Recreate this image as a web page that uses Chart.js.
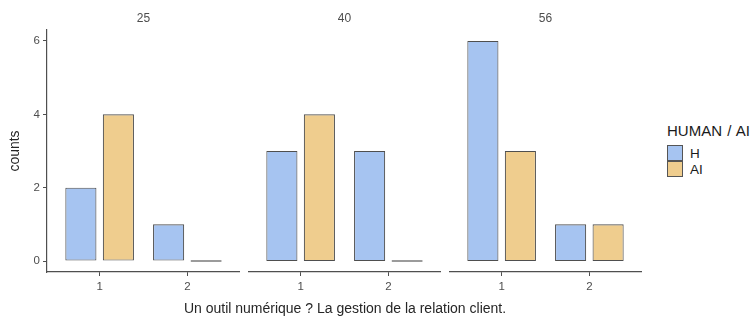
<!DOCTYPE html>
<html>
<head>
<meta charset="utf-8">
<script src="https://cdn.jsdelivr.net/npm/chart.js@4/dist/chart.umd.min.js"></script>
<style>
  html, body { margin: 0; padding: 0; background: #fff; }
  #wrap { position: relative; width: 753px; height: 320px; overflow: hidden; font-family: "Liberation Sans", Arial, sans-serif; }
  .pc { position: absolute; top: 0; height: 320px; }
  #xtitle { position: absolute; left: 145px; width: 400px; top: 300px; text-align: center; font-size: 14px; color: #262626; white-space: nowrap; }
  #legend { position: absolute; left: 667px; top: 122px; color: #1a1a1a; }
  #legend .lt { font-size: 15px; margin-bottom: 6px; white-space: nowrap; word-spacing: 1px; }
  #legend .it { display: flex; align-items: center; height: 16px; font-size: 13.5px; }
  #legend .sw { width: 14px; height: 14px; border: 1px solid #555; margin-right: 7px; box-sizing: content-box; }
</style>
</head>
<body>
<div id="wrap">
  <div class="pc" style="left:0px;width:240px"><canvas id="c0"></canvas></div>
  <div class="pc" style="left:248px;width:193px"><canvas id="c1"></canvas></div>
  <div class="pc" style="left:449px;width:193px"><canvas id="c2"></canvas></div>
  <div id="xtitle"></div>
  <div id="legend"></div>
</div>
<script>
// ---- data ----
const facets = ["25", "40", "56"];
const categories = [1, 2];
const seriesNames = ["H", "AI"];
const valuesH = [[2, 1], [3, 3], [6, 1]];
const valuesAI = [[4, 0], [4, 0], [3, 1]];
const yTicks = [0, 2, 4, 6];
const xTicks = [1, 2];
const xTitle = "Un outil numérique ? La gestion de la relation client.";
const yTitle = "counts";
const legendTitle = "HUMAN / AI";

// ---- style ----
const colors = ["#a6c4f1", "#efcd8e"];
const edge = "#4f4f4f";
const FONT = "'Liberation Sans', Arial, sans-serif";
const tickColor = "#4d4d4d";

function makeChart(id, idx) {
  const first = idx === 0;
  const seriesVals = [valuesH[idx], valuesAI[idx]];
  const datasets = seriesNames.map((name, s) => ({
    label: name,
    data: categories.map((c, i) => ({ x: c, y: seriesVals[s][i] })),
    backgroundColor: colors[s],
    borderColor: edge,
    borderWidth: 1.1,
    borderSkipped: false,
    minBarLength: 1.6,
    categoryPercentage: 0.855,
    barPercentage: 0.83
  }));
  const yScale = {
    display: first,
    min: -0.3,
    max: 6.3,
    afterBuildTicks: (ax) => { ax.ticks = yTicks.map(v => ({ value: v })); },
    ticks: {
      color: tickColor,
      font: { family: FONT, size: 11.5 },
      padding: 3
    },
    grid: { display: true, drawOnChartArea: false, drawTicks: true, tickLength: 4, color: edge },
    border: { display: true, color: edge, width: 1.2 },
    title: {
      display: first,
      text: yTitle,
      color: "#262626",
      font: { family: FONT, size: 14 },
      padding: { top: 7, bottom: 0 }
    }
  };
  if (first) yScale.afterFit = (ax) => { ax.width = 47; };
  return new Chart(document.getElementById(id), {
    type: "bar",
    data: { datasets },
    options: {
      responsive: true,
      maintainAspectRatio: false,
      animation: false,
      events: [],
      layout: { padding: 0 },
      plugins: {
        legend: { display: false },
        tooltip: { enabled: false },
        title: {
          display: true,
          text: facets[idx],
          fullSize: false,
          color: tickColor,
          font: { family: FONT, size: 12, weight: "normal", lineHeight: 1.2 },
          padding: { top: 11, bottom: 4.6 }
        }
      },
      scales: {
        x: {
          type: "linear",
          min: 0.4,
          max: 2.6,
          offset: false,
          afterBuildTicks: (ax) => { ax.ticks = xTicks.map(v => ({ value: v })); },
          afterFit: (ax) => { ax.height = 48; },
          ticks: {
            color: tickColor,
            font: { family: FONT, size: 11.5 },
            padding: 4,
            maxRotation: 0,
            autoSkip: false,
            callback: (v) => String(v)
          },
          grid: { display: true, drawOnChartArea: false, drawTicks: true, tickLength: 4, color: edge, offset: false },
          border: { display: true, color: edge, width: 1.2 }
        },
        y: yScale
      }
    }
  });
}

makeChart("c0", 0);
makeChart("c1", 1);
makeChart("c2", 2);

document.getElementById("xtitle").textContent = xTitle;

// legend
const lg = document.getElementById("legend");
const t = document.createElement("div");
t.className = "lt";
t.textContent = legendTitle;
lg.appendChild(t);
seriesNames.forEach((n, i) => {
  const it = document.createElement("div");
  it.className = "it";
  const sw = document.createElement("div");
  sw.className = "sw";
  sw.style.background = colors[i];
  const lab = document.createElement("span");
  lab.textContent = n;
  it.appendChild(sw);
  it.appendChild(lab);
  lg.appendChild(it);
});
</script>
</body>
</html>
